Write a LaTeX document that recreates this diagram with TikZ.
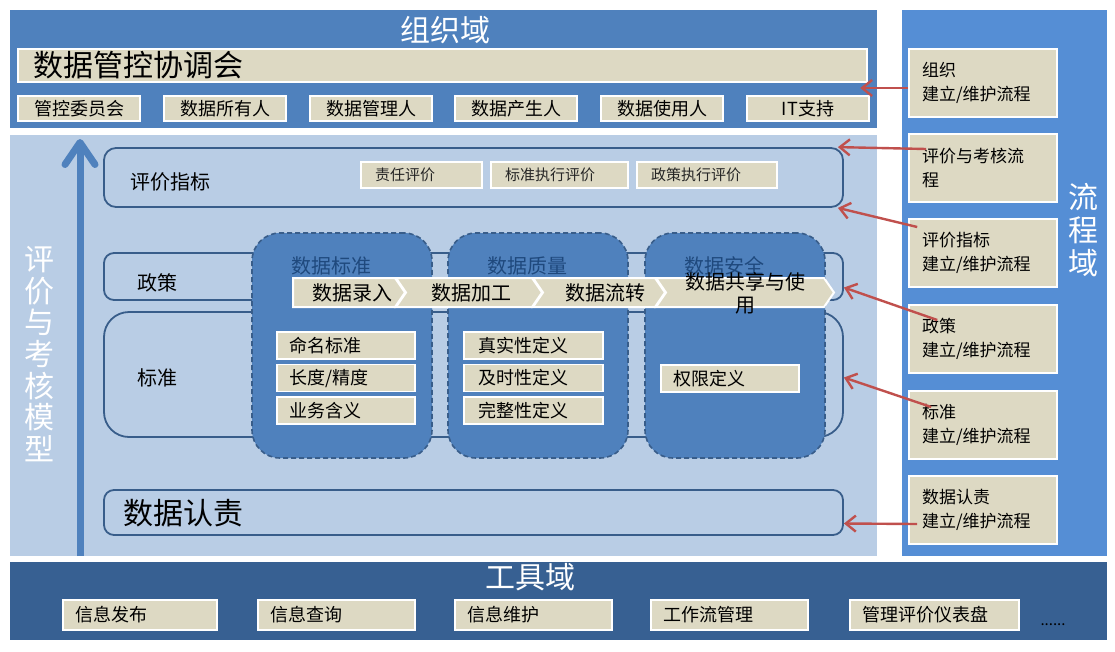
\documentclass[tikz,border=0pt]{standalone}
\usepackage{fontspec}
\setmainfont{Noto Sans CJK SC}
\usetikzlibrary{arrows.meta}
\definecolor{orgblue}{HTML}{4F81BD}
\definecolor{procblue}{HTML}{558ED5}
\definecolor{paleblue}{HTML}{B9CDE5}
\definecolor{toolblue}{HTML}{376092}
\definecolor{beige}{HTML}{DDD9C3}
\definecolor{edgeblue}{HTML}{385D8A}
\definecolor{titleblue}{HTML}{1F497D}
\definecolor{arrowred}{HTML}{C0504D}
\begin{document}
\begin{tikzpicture}[x=1pt, y=-1pt, line width=0.4pt,
  zone/.style={rectangle, inner sep=0pt},
  card/.style={draw=white, line width=1.6pt, fill=beige, rectangle, inner sep=0pt},
  tier/.style={draw=edgeblue, line width=1.8pt, rectangle, rounded corners=10pt, inner sep=0pt},
  column/.style={draw=edgeblue, line width=1.6pt, dash pattern=on 5pt off 3pt, fill=orgblue, rectangle, rounded corners=28pt, inner sep=0pt},
  chev/.style={draw=white, line width=2pt, fill=beige},
  f15/.style={font=\fontsize{15}{18}\selectfont},
  f17/.style={font=\fontsize{17}{24}\selectfont},
  f18/.style={font=\fontsize{18}{22}\selectfont},
  f20/.style={font=\fontsize{20}{23}\selectfont},
  f30/.style={font=\fontsize{30}{33}\selectfont},
  redarrow/.style={draw=arrowred, line width=2.4pt, -{Straight Barb[length=10pt,width=16pt]}}]
  \useasboundingbox (0,0) rectangle (1115,651);

  \node[zone, fill=orgblue, minimum width=867pt, minimum height=118pt] (orgdom) at (443.5,69) {};
  \node[zone, fill=procblue, minimum width=205pt, minimum height=546pt] (procdom) at (1004.5,283) {};
  \node[zone, fill=paleblue, minimum width=867pt, minimum height=421pt] (evaldom) at (443.5,345.5) {};
  \node[zone, fill=toolblue, minimum width=1097pt, minimum height=78pt] (tooldom) at (558.5,601) {};

  \node[f30, text=white] (orgtitle) at (445,30) {组织域};
  \node[card, minimum width=849pt, minimum height=33pt, text width=819pt, inner xsep=15pt, align=left, f30] (council) at (442.5,65.5) {数据管控协调会};
  \node[card, minimum width=122pt, minimum height=25pt, f18] (m1) at (79,108.5) {管控委员会};
  \node[card, minimum width=122pt, minimum height=25pt, f18] (m2) at (225,108.5) {数据所有人};
  \node[card, minimum width=122pt, minimum height=25pt, f18] (m3) at (371,108.5) {数据管理人};
  \node[card, minimum width=122pt, minimum height=25pt, f18] (m4) at (516,108.5) {数据产生人};
  \node[card, minimum width=122pt, minimum height=25pt, f18] (m5) at (662,108.5) {数据使用人};
  \node[card, minimum width=122pt, minimum height=25pt, f18] (m6) at (808,108.5) {IT支持};

  \coordinate (evbot) at (80,556);
  \coordinate (evtop) at (80,139);
  \draw[draw=orgblue, line width=7pt, -{Straight Barb[length=22pt,width=30pt,round]}] (evbot) -- (evtop);
  \node[text=white, align=center, font=\fontsize{30}{31.7}\selectfont] (evmodel) at (39,354) {评\\价\\与\\考\\核\\模\\型};

  \node[tier, minimum width=739pt, minimum height=59pt, rounded corners=12pt] (evalbox) at (473.5,177.5) {};
  \node[tier, minimum width=739pt, minimum height=47pt] (polbox) at (473.5,276.5) {};
  \node[tier, minimum width=739pt, minimum height=125pt, rounded corners=25pt] (stdbox) at (473.5,374.5) {};
  \node[tier, minimum width=739pt, minimum height=45pt] (accbox) at (473.5,512.5) {};
  \node[anchor=west, f20] (evallbl) at (127,182) {评价指标};
  \node[anchor=west, f20] (pollbl) at (134,283) {政策};
  \node[anchor=west, f20] (stdlbl) at (134,378) {标准};
  \node[anchor=west, f30] (acclbl) at (120,513) {数据认责};

  \node[card, minimum width=121pt, minimum height=26pt, text width=93pt, inner xsep=14pt, align=left, f15, text=black!85] (e1) at (421.5,175) {责任评价};
  \node[card, minimum width=137pt, minimum height=26pt, text width=109pt, inner xsep=14pt, align=left, f15, text=black!85] (e2) at (559.5,175) {标准执行评价};
  \node[card, minimum width=140pt, minimum height=26pt, text width=112pt, inner xsep=14pt, align=left, f15, text=black!85] (e3) at (707,175) {政策执行评价};

  \node[column, minimum width=180pt, minimum height=225pt] (colstd) at (342,345.5) {};
  \node[column, minimum width=180pt, minimum height=225pt] (colqual) at (538,345.5) {};
  \node[column, minimum width=180pt, minimum height=225pt] (colsec) at (735,345.5) {};
  \node[f20, text=titleblue] (stdtitle) at (331,266) {数据标准};
  \node[f20, text=titleblue] (qualtitle) at (527,266) {数据质量};
  \node[f20, text=titleblue] (sectitle) at (724,266) {数据安全};

  \node[card, minimum width=138pt, minimum height=27pt, text width=114pt, inner xsep=12pt, align=left, f18] (s1) at (346,345.5) {命名标准};
  \node[card, minimum width=138pt, minimum height=27pt, text width=114pt, inner xsep=12pt, align=left, f18] (s2) at (346,378) {长度/精度};
  \node[card, minimum width=138pt, minimum height=27pt, text width=114pt, inner xsep=12pt, align=left, f18] (s3) at (346,410.5) {业务含义};
  \node[card, minimum width=139pt, minimum height=27pt, text width=111pt, inner xsep=14pt, align=left, f18] (q1) at (533.5,345.5) {真实性定义};
  \node[card, minimum width=139pt, minimum height=27pt, text width=111pt, inner xsep=14pt, align=left, f18] (q2) at (533.5,378) {及时性定义};
  \node[card, minimum width=139pt, minimum height=27pt, text width=111pt, inner xsep=14pt, align=left, f18] (q3) at (533.5,410.5) {完整性定义};
  \node[card, minimum width=138pt, minimum height=27pt, text width=114pt, inner xsep=12pt, align=left, f18] (k1) at (730,378.5) {权限定义};

  \draw[chev] (293,278) -- (395,278) -- (405,292.5) -- (395,307) -- (293,307) -- cycle;
  \draw[chev] (396,278) -- (532,278) -- (542,292.5) -- (532,307) -- (396,307) -- (406,292.5) -- cycle;
  \draw[chev] (533,278) -- (655,278) -- (665,292.5) -- (655,307) -- (533,307) -- (543,292.5) -- cycle;
  \draw[chev] (656,278) -- (824,278) -- (834,292.5) -- (824,307) -- (656,307) -- (666,292.5) -- cycle;
  \node[f20] (flow1) at (352,293) {数据录入};
  \node[f20] (flow2) at (471,293) {数据加工};
  \node[f20] (flow3) at (605,293) {数据流转};
  \node[align=center, font=\fontsize{20}{23}\selectfont] (flow4) at (745,293) {数据共享与使\\用};

  \node[card, minimum width=148pt, minimum height=68pt, text width=122pt, inner xsep=13pt, align=left, f17] (pr1) at (983,83) {组织\\建立/维护流程};
  \node[card, minimum width=148pt, minimum height=68pt, text width=122pt, inner xsep=13pt, align=left, f17] (pr2) at (983,168) {评价与考核流\\程};
  \node[card, minimum width=148pt, minimum height=68pt, text width=122pt, inner xsep=13pt, align=left, f17] (pr3) at (983,253) {评价指标\\建立/维护流程};
  \node[card, minimum width=148pt, minimum height=68pt, text width=122pt, inner xsep=13pt, align=left, f17] (pr4) at (983,339) {政策\\建立/维护流程};
  \node[card, minimum width=148pt, minimum height=68pt, text width=122pt, inner xsep=13pt, align=left, f17] (pr5) at (983,425) {标准\\建立/维护流程};
  \node[card, minimum width=148pt, minimum height=68pt, text width=122pt, inner xsep=13pt, align=left, f17] (pr6) at (983,510) {数据认责\\建立/维护流程};
  \node[text=white, align=center, font=\fontsize{30}{33}\selectfont] (proctitle) at (1083,230) {流\\程\\域};

  \draw[redarrow] ([yshift=-5pt]pr1.west) -- ([xshift=-17pt,yshift=-19pt]orgdom.east);
  \draw[redarrow] ([xshift=18pt,yshift=19pt]pr2.west) -- ([xshift=-6pt]evalbox.north east);
  \draw[redarrow] ([xshift=9pt,yshift=26pt]pr3.west) -- ([xshift=-6pt]evalbox.south east);
  \draw[redarrow] ([xshift=29pt,yshift=19pt]pr4.west) -- ([yshift=-11pt]polbox.east);
  \draw[redarrow] ([xshift=23pt,yshift=18pt]pr5.west) -- ([yshift=-3pt]stdbox.east);
  \draw[redarrow] ([xshift=9pt,yshift=-14pt]pr6.west) -- ([yshift=-11pt]accbox.east);

  \node[f30, text=white] (tooltitle) at (530,577) {工具域};
  \node[card, minimum width=154pt, minimum height=30pt, text width=130pt, inner xsep=12pt, align=left, f18] (t1) at (140,615) {信息发布};
  \node[card, minimum width=157pt, minimum height=30pt, text width=133pt, inner xsep=12pt, align=left, f18] (t2) at (336.5,615) {信息查询};
  \node[card, minimum width=157pt, minimum height=30pt, text width=133pt, inner xsep=12pt, align=left, f18] (t3) at (533.5,615) {信息维护};
  \node[card, minimum width=157pt, minimum height=30pt, text width=133pt, inner xsep=12pt, align=left, f18] (t4) at (729.5,615) {工作流管理};
  \node[card, minimum width=169pt, minimum height=30pt, text width=145pt, inner xsep=12pt, align=left, f18] (t5) at (934.5,615) {管理评价仪表盘};
  \node[f15] (more) at (1053,625) {......};
\end{tikzpicture}
\end{document}
